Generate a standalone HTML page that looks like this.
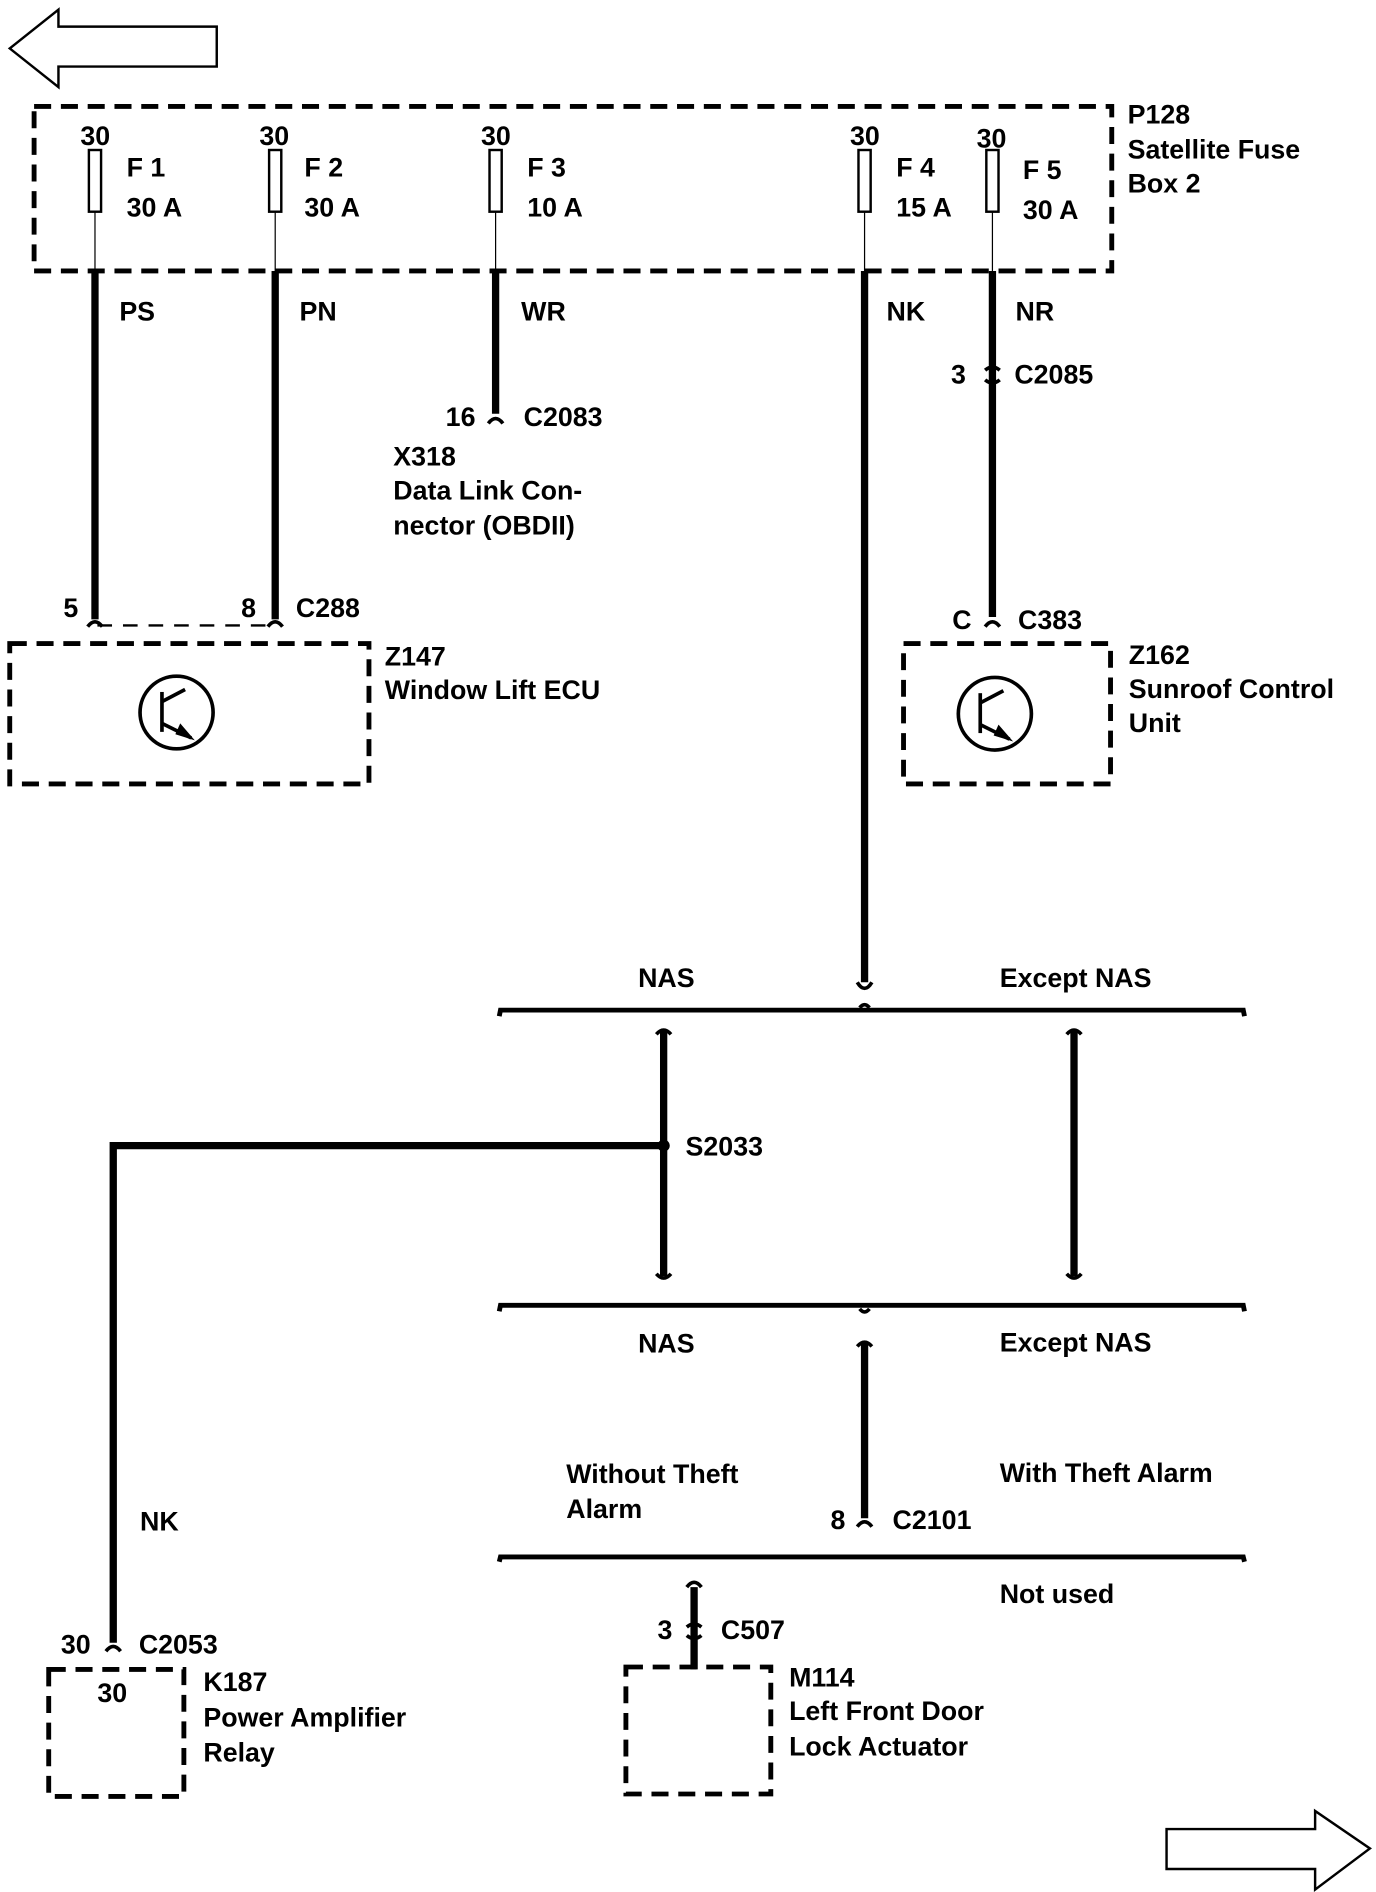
<!DOCTYPE html>
<html><head><meta charset="utf-8"><style>
html,body{margin:0;padding:0;background:#fff;}
svg{display:block;}
text{font-family:"Liberation Sans",Arial,sans-serif;font-weight:bold;font-size:22px;fill:#000;}
</style></head><body>
<svg width="1376" height="1892" viewBox="0 0 1130 1564" preserveAspectRatio="none" xmlns="http://www.w3.org/2000/svg">
<g fill="none" stroke="#000">
<polygon points="8,40 48,8 48,22 178,22 178,55 48,55 48,72" stroke-width="2"/>
<polygon points="958,1512 1080,1512 1080,1497 1125,1528 1080,1562 1080,1545 958,1545" stroke-width="2"/>
<g stroke-width="4" stroke-dasharray="14,8">
<rect x="28" y="88" width="885" height="136"/>
<rect x="8" y="532" width="295" height="116"/>
<rect x="742" y="532" width="170" height="116"/>
<rect x="40" y="1380" width="111" height="105"/>
<rect x="514" y="1378" width="119" height="105"/>
</g>
<line x1="80" y1="517" x2="224" y2="517" stroke-width="2" stroke-dasharray="12,9"/>
<g stroke-width="2">
<rect x="73" y="124" width="10" height="51"/><rect x="221" y="124" width="10" height="51"/>
<rect x="402" y="124" width="10" height="51"/><rect x="705" y="124" width="10" height="51"/>
<rect x="810" y="124" width="10" height="51"/>
<line x1="78" y1="175" x2="78" y2="224" stroke-width="1"/><line x1="226" y1="175" x2="226" y2="224" stroke-width="1"/>
<line x1="407" y1="175" x2="407" y2="224" stroke-width="1"/><line x1="710" y1="175" x2="710" y2="224" stroke-width="1"/>
<line x1="815" y1="175" x2="815" y2="224" stroke-width="1"/>
</g>
<g stroke-width="6">
<line x1="78" y1="224" x2="78" y2="512"/>
<line x1="226" y1="224" x2="226" y2="512"/>
<line x1="407" y1="224" x2="407" y2="342"/>
<line x1="710" y1="224" x2="710" y2="812"/>
<line x1="815" y1="224" x2="815" y2="510"/>
<line x1="545" y1="852" x2="545" y2="1055"/>
<line x1="882" y1="852" x2="882" y2="1055"/>
<polyline points="545,947 93,947 93,1358"/>
<line x1="710" y1="1110" x2="710" y2="1255"/>
<line x1="570" y1="1312" x2="570" y2="1380"/>
</g>
<g stroke-width="4">
<polyline points="410,840 411,835 1021,835 1022,840"/>
<polyline points="410,1084 411,1079 1021,1079 1022,1084"/>
<polyline points="410,1291 411,1287 1021,1287 1022,1291"/>
</g>
<g stroke-width="3">
<path d="M72,518 Q78,510 84,518"/><path d="M220,518 Q226,510 232,518"/>
<path d="M401,350 Q407,342 413,350"/><path d="M809,518 Q815,510 821,518"/>
<path d="M87,1365 Q93,1357 99,1365"/><path d="M704,1262 Q710,1254 716,1262"/>
<path d="M704,812 Q710,822 716,812"/><path d="M706,833 Q710,828 714,833"/>
<path d="M539,855 Q545,848 551,855"/><path d="M876,855 Q882,848 888,855"/>
<path d="M539,1053 Q545,1060 551,1053"/><path d="M876,1053 Q882,1060 888,1053"/>
<path d="M704,1113 Q710,1106 716,1113"/><path d="M706,1082 Q710,1087 714,1082"/>
<path d="M809,306 Q815,301 821,306"/><path d="M809,314 Q815,319 821,314"/>
<path d="M564,1345 Q570,1340 576,1345"/><path d="M564,1352 Q570,1357 576,1352"/>
<path d="M564,1312 Q570,1304 576,1312"/>
</g>
<g stroke-width="3">
<circle cx="145" cy="589" r="30"/><line x1="133" y1="572" x2="133" y2="605"/>
<line x1="133" y1="580" x2="152" y2="570"/><line x1="133" y1="598" x2="157" y2="610"/>
<circle cx="817" cy="590" r="30"/><line x1="805" y1="573" x2="805" y2="606"/>
<line x1="805" y1="581" x2="824" y2="571"/><line x1="805" y1="599" x2="829" y2="611"/>
</g>
</g>
<polygon points="160,612 148,598 144,607" fill="#000"/>
<polygon points="832,613 820,599 816,608" fill="#000"/>
<circle cx="545" cy="947" r="5" fill="#000"/>
<text x="66" y="120">30</text><text x="213" y="120">30</text><text x="395" y="120">30</text>
<text x="698" y="120">30</text><text x="802" y="122">30</text>
<text x="104" y="146">F 1</text><text x="104" y="179">30 A</text>
<text x="250" y="146">F 2</text><text x="250" y="179">30 A</text>
<text x="433" y="146">F 3</text><text x="433" y="179">10 A</text>
<text x="736" y="146">F 4</text><text x="736" y="179">15 A</text>
<text x="840" y="148">F 5</text><text x="840" y="181">30 A</text>
<text x="926" y="102">P128</text><text x="926" y="131">Satellite Fuse</text><text x="926" y="159">Box 2</text>
<text x="98" y="265">PS</text><text x="246" y="265">PN</text><text x="428" y="265">WR</text>
<text x="728" y="265">NK</text><text x="834" y="265">NR</text>
<text x="781" y="317">3</text><text x="833" y="317">C2085</text>
<text x="366" y="352">16</text><text x="430" y="352">C2083</text>
<text x="323" y="385">X318</text><text x="323" y="413">Data Link Con-</text><text x="323" y="442">nector (OBDII)</text>
<text x="52" y="510">5</text><text x="198" y="510">8</text><text x="243" y="510">C288</text>
<text x="782" y="520">C</text><text x="836" y="520">C383</text>
<text x="316" y="550">Z147</text><text x="316" y="578">Window Lift ECU</text>
<text x="927" y="549">Z162</text><text x="927" y="577">Sunroof Control</text><text x="927" y="605">Unit</text>
<text x="524" y="816">NAS</text><text x="821" y="816">Except NAS</text>
<text x="563" y="955">S2033</text>
<text x="524" y="1118">NAS</text><text x="821" y="1117">Except NAS</text>
<text x="465" y="1226">Without Theft</text><text x="465" y="1255">Alarm</text>
<text x="821" y="1225">With Theft Alarm</text>
<text x="115" y="1265">NK</text>
<text x="682" y="1264">8</text><text x="733" y="1264">C2101</text>
<text x="821" y="1325">Not used</text>
<text x="540" y="1355">3</text><text x="592" y="1355">C507</text>
<text x="50" y="1367">30</text><text x="114" y="1367">C2053</text>
<text x="80" y="1407">30</text>
<text x="167" y="1398">K187</text><text x="167" y="1427">Power Amplifier</text><text x="167" y="1456">Relay</text>
<text x="648" y="1394">M114</text><text x="648" y="1422">Left Front Door</text><text x="648" y="1451">Lock Actuator</text>
</svg>
</body></html>
